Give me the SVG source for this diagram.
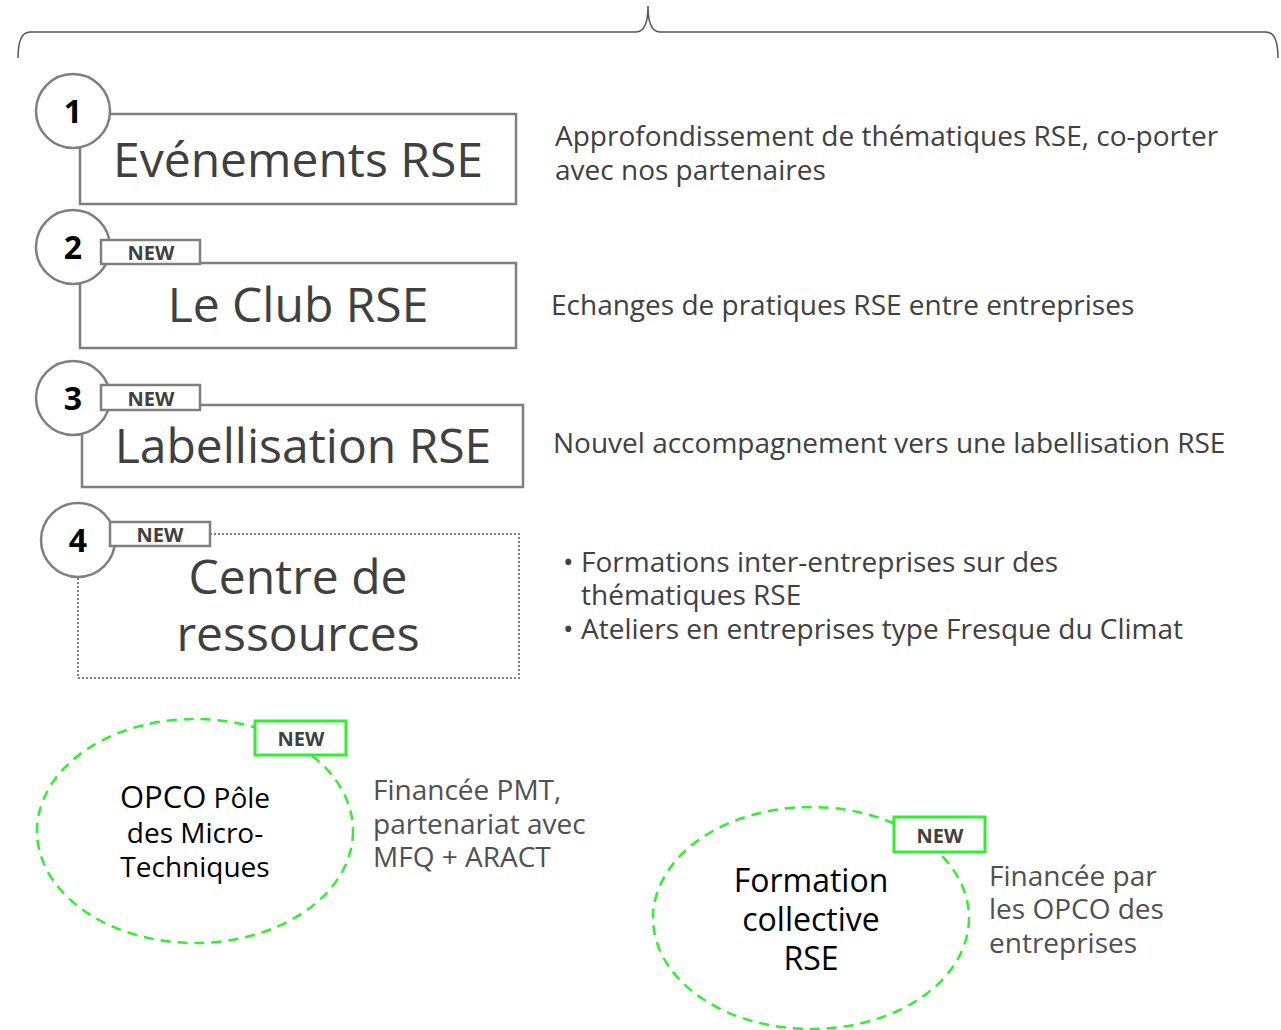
<svg xmlns="http://www.w3.org/2000/svg" width="1281" height="1030" viewBox="0 0 1281 1030">
<style>
.box{fill:#fff;stroke:#7f7f7f;stroke-width:2.5}
.dot{fill:none;stroke:#7f7f7f;stroke-width:2;stroke-dasharray:2 2}
.circ{fill:#fff;stroke:#7f7f7f;stroke-width:2.5}
.badge{fill:#fff;stroke:#7f7f7f;stroke-width:2.5}
.gbadge{fill:#fff;stroke:#33ee33;stroke-width:3}
.ell{fill:none;stroke:#33ee33;stroke-width:2.5;stroke-dasharray:10 7}
.num{font-family:"Open Sans","Liberation Sans",sans-serif;font-weight:bold;font-size:32px;fill:#000;text-anchor:middle}
.new{font-family:"Open Sans","Liberation Sans",sans-serif;font-weight:bold;font-size:20px;fill:#404040;text-anchor:middle}
.title{font-family:"Open Sans","Liberation Sans",sans-serif;font-size:48px;fill:#404040;text-anchor:middle}
.desc{font-family:"Open Sans","Liberation Sans",sans-serif;font-size:28px;fill:#404040}
.etext{font-family:"Open Sans","Liberation Sans",sans-serif;font-size:28px;fill:#000;text-anchor:middle}
.etext2{font-family:"Open Sans","Liberation Sans",sans-serif;font-size:32px;fill:#000;text-anchor:middle}
.gdesc{font-family:"Open Sans","Liberation Sans",sans-serif;font-size:28px;fill:#505050}
</style>
<g id="connectors">
<path d="M18,58 Q18,32 30,32 L636,32 Q648,32 648,6 Q648,32 660,32 L1266,32 Q1278,32 1278,58" fill="none" stroke="#555" stroke-width="1.5"/>
</g>
<g id="node1">
<rect class="box" x="80" y="114" width="436" height="90"/>
<circle class="circ" cx="73" cy="111" r="37"/>
<text class="num" x="73" y="123">1</text>
<text class="title" x="298" y="177">Evénements RSE</text>
<text class="desc" x="555" y="146">Approfondissement de thématiques RSE, co-porter</text>
<text class="desc" x="555" y="180">avec nos partenaires</text>
</g>
<g id="node2">
<rect class="box" x="80" y="263" width="436" height="85"/>
<circle class="circ" cx="73" cy="247" r="37"/>
<text class="num" x="73" y="259">2</text>
<rect class="badge" x="101" y="240" width="99" height="24"/>
<text class="new" x="151" y="260">NEW</text>
<text class="title" x="298" y="322">Le Club RSE</text>
<text class="desc" x="551" y="315">Echanges de pratiques RSE entre entreprises</text>
</g>
<g id="node3">
<rect class="box" x="82" y="405" width="441" height="82"/>
<circle class="circ" cx="73" cy="398" r="37"/>
<text class="num" x="73" y="410">3</text>
<rect class="badge" x="101" y="385" width="99" height="25"/>
<text class="new" x="151" y="406">NEW</text>
<text class="title" x="303" y="463">Labellisation RSE</text>
<text class="desc" x="553" y="453">Nouvel accompagnement vers une labellisation RSE</text>
</g>
<g id="node4">
<rect class="dot" x="78" y="534" width="441" height="144"/>
<circle class="circ" cx="78" cy="540" r="37"/>
<text class="num" x="78" y="552">4</text>
<rect class="badge" x="110" y="522" width="100" height="24"/>
<text class="new" x="160" y="542">NEW</text>
<text class="title" x="298" y="594">Centre de</text>
<text class="title" x="298" y="651">ressources</text>
<text class="desc" x="563" y="572">•</text>
<text class="desc" x="581" y="572">Formations inter-entreprises sur des</text>
<text class="desc" x="581" y="605">thématiques RSE</text>
<text class="desc" x="563" y="639">•</text>
<text class="desc" x="581" y="639">Ateliers en entreprises type Fresque du Climat</text>
</g>
<g id="node5">
<ellipse class="ell" cx="195" cy="831" rx="158" ry="112"/>
<rect class="gbadge" x="255" y="721" width="91" height="34"/>
<text class="new" x="301" y="746">NEW</text>
<text class="etext" x="195" y="808"><tspan style="font-size:31px">OPCO</tspan> Pôle</text>
<text class="etext" x="195" y="843">des Micro-</text>
<text class="etext" x="195" y="877">Techniques</text>
<text class="gdesc" x="373" y="800">Financée PMT,</text>
<text class="gdesc" x="373" y="834">partenariat avec</text>
<text class="gdesc" x="373" y="867">MFQ + ARACT</text>
</g>
<g id="node6">
<ellipse class="ell" cx="811" cy="918" rx="158" ry="111"/>
<rect class="gbadge" x="894" y="817" width="91" height="35"/>
<text class="new" x="940" y="843">NEW</text>
<text class="etext2" x="811" y="892">Formation</text>
<text class="etext2" x="811" y="931">collective</text>
<text class="etext2" x="811" y="970">RSE</text>
<text class="gdesc" x="989" y="886">Financée par</text>
<text class="gdesc" x="989" y="919">les OPCO des</text>
<text class="gdesc" x="989" y="953">entreprises</text>
</g>
</svg>
